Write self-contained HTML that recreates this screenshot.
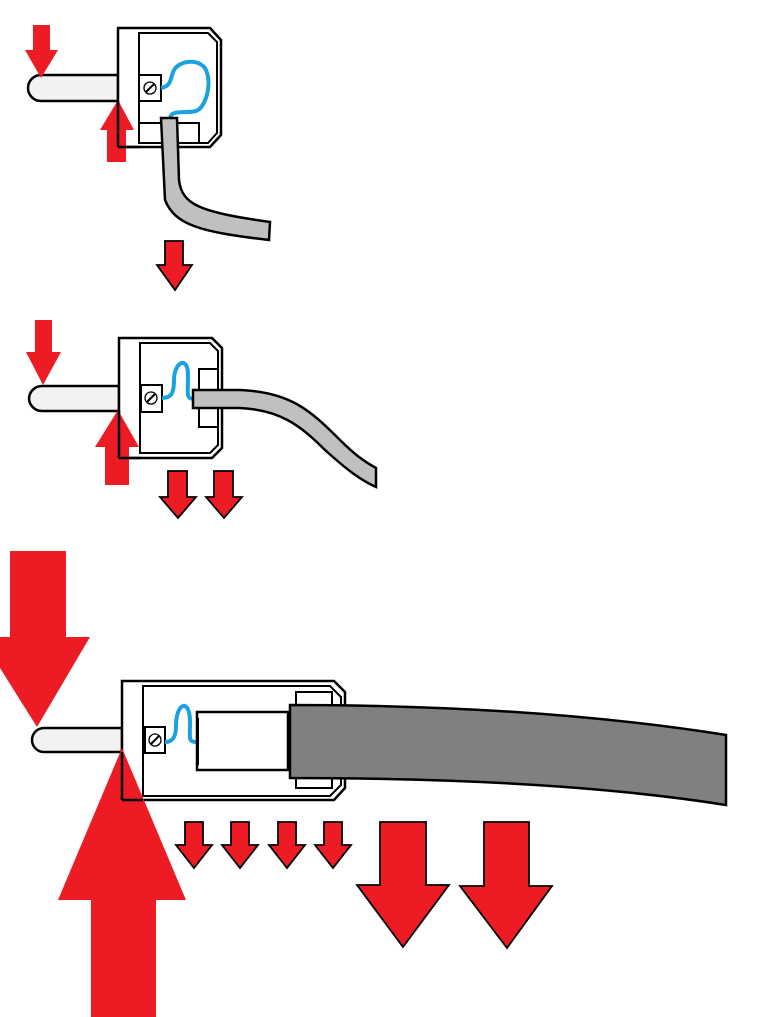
<!DOCTYPE html>
<html><head><style>html,body{margin:0;padding:0;background:#fff}svg{display:block}</style></head>
<body>
<svg width="764" height="1017" viewBox="0 0 764 1017" xmlns="http://www.w3.org/2000/svg">
<g stroke="#000" stroke-width="2.5" stroke-linejoin="miter">
<!-- Plug 1 -->
<path d="M28,88 a13,13 0 0 1 13,-13 H118 V101 H41 a13,13 0 0 1 -13,-13Z" fill="#f2f2f2"/>
<path d="M118,28 H210 L221,40 V135 L210,147 H118 Z" fill="#fff"/>
<path d="M139,33 H208 L217,42 V133 L208,143 H139 Z" fill="#fff" stroke-width="2"/>
<rect x="139" y="123" width="60" height="20" fill="#fff" stroke-width="2"/>
<rect x="139" y="75" width="22" height="26" fill="#fff" stroke-width="2"/>
<circle cx="150" cy="88" r="6" fill="#fff" stroke-width="1.3"/><line x1="146" y1="92" x2="154" y2="84" stroke-width="2"/>
<path d="M161,88 C172,86 170,78 174,70 C180,60 200,58 206,70 C212,84 206,105 198,110 C190,115 172,108 170,118" fill="none" stroke="#1ba1e2" stroke-width="4"/>
<path d="M161,118 H177 L179,180 C182,205 200,212 270,222 L269,240 C200,232 175,225 165,200 Z" fill="#c0c0c0"/>
<!-- Plug 2 -->
<path d="M29,399 a13,13 0 0 1 13,-13 H119 V411 H42 a13,13 0 0 1 -13,-13Z" fill="#f2f2f2"/>
<path d="M119,338 H212 L222,348 V448 L212,458 H119 Z" fill="#fff"/>
<path d="M140,343 H210 L218,351 V445 L210,453 H140 Z" fill="#fff" stroke-width="2"/>
<rect x="199" y="369" width="19" height="58" fill="#fff" stroke-width="2"/>
<rect x="141" y="385" width="21" height="27" fill="#fff" stroke-width="2"/>
<circle cx="151" cy="398" r="6" fill="#fff" stroke-width="1.3"/><line x1="147" y1="402" x2="155" y2="394" stroke-width="2"/>
<path d="M162,398 C172,398 174,392 174,380 C174,362 188,355 188,375 C188,395 186,398 193,399" fill="none" stroke="#1ba1e2" stroke-width="4"/>
<path d="M193,390 H240 C290,392 310,410 340,440 C355,455 365,462 376,468 V487 C360,480 345,468 325,450 C300,425 280,410 240,408 H193 Z" fill="#c0c0c0"/>
<!-- Plug 3 -->
<path d="M32,740 a12,12 0 0 1 12,-12 H122 V752 H44 a12,12 0 0 1 -12,-12Z" fill="#f2f2f2"/>
<path d="M122,681 H334 L345,692 V788 L334,800 H122 Z" fill="#fff"/>
<path d="M143,686 H330 L341,697 V785 L330,796 H143 Z" fill="#fff" stroke-width="2"/>
<rect x="296" y="692" width="36" height="96" fill="#fff" stroke-width="2"/>
<rect x="145" y="727" width="20" height="26" fill="#fff" stroke-width="2"/>
<circle cx="155" cy="740" r="6" fill="#fff" stroke-width="1.3"/><line x1="151" y1="744" x2="159" y2="736" stroke-width="2"/>
<path d="M165,742 C172,742 176,738 176,726 C176,702 190,698 190,722 C190,738 188,742 196,742" fill="none" stroke="#1ba1e2" stroke-width="4"/>
<rect x="197" y="712" width="91" height="58" fill="#fff"/>
<rect x="196" y="718" width="3" height="47" fill="#000" stroke="none"/>
<path d="M290,705 C450,705 600,715 726,735 V805 C600,785 450,778 290,778 Z" fill="#808080"/>
</g>
<g fill="#ed1c24">
<path d="M33,25 H50 V50 H58 L41,78 L25,50 H33Z"/>
<path d="M118,100 L134,130 H126 V162 H107 V130 H100Z"/>
<path d="M35,320 H52 V352 H61 L43,385 L26,352 H35Z"/>
<path d="M118,410 L139,447 H129 V485 H105 V447 H95Z"/>
<path d="M10,551 H66 V637 H90 L37,727 L-5,660 L-5,637 H10Z"/>
<path d="M122,748 L186,900 H156 V1017 H91 V900 H58Z"/>
</g>
<g stroke="#000" stroke-width="2.5">
<line x1="118" y1="101" x2="118" y2="147"/>
<line x1="118" y1="147" x2="140" y2="147"/>
<line x1="119" y1="411" x2="119" y2="458"/>
<line x1="119" y1="458" x2="141" y2="458"/>
<line x1="122" y1="752" x2="122" y2="800"/>
<line x1="122" y1="800" x2="143" y2="800"/>
</g>
<g fill="#ed1c24" stroke="#000" stroke-width="1.8">
<path d="M165,241 H183 V265 H192 L175,290 L157,265 H165Z"/>
<path d="M168,471 H187 V497 H196 L178,518 L160,497 H168Z"/>
<path d="M214,471 H233 V497 H242 L224,518 L206,497 H214Z"/>
<path d="M185,822 H203 V845 H212 L194,868 L176,845 H185Z"/>
<path d="M231,822 H249 V845 H258 L240,868 L222,845 H231Z"/>
<path d="M278,822 H296 V845 H305 L287,868 L269,845 H278Z"/>
<path d="M324,822 H342 V845 H351 L333,868 L315,845 H324Z"/>
<path d="M380,822 H426 V885 H449 L403,947 L357,885 H380Z"/>
<path d="M484,822 H529 V886 H552 L507,948 L460,886 H484Z"/>
</g>
</svg>
</body></html>
